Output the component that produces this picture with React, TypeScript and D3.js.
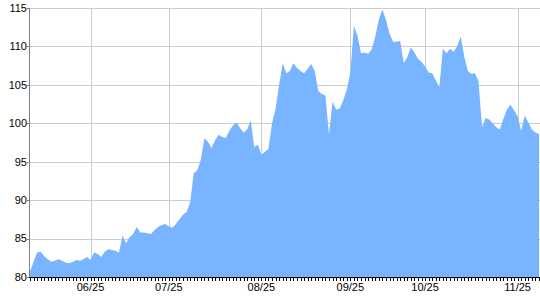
import React from "react";
import * as d3 from "d3";

const values: number[] = [
  80.7, 82.0, 83.2, 83.3, 82.7, 82.3, 82.0, 82.1, 82.3, 82.1,
  81.9, 81.8, 81.95, 82.2, 82.1, 82.3, 82.6, 82.2, 83.2, 83.0,
  82.6, 83.3, 83.6, 83.5, 83.4, 83.2, 85.4, 84.4, 85.2, 85.6,
  86.5, 85.8, 85.8, 85.7, 85.6, 86.1, 86.5, 86.75, 86.9, 86.6,
  86.4, 86.9, 87.5, 88.1, 88.5, 89.7, 93.5, 93.9, 95.3, 98.05,
  97.6, 96.8, 97.8, 98.5, 98.2, 98.1, 99.0, 99.7, 100.1, 99.4,
  98.8, 99.2, 100.4, 96.9, 97.2, 95.9, 96.3, 96.7, 100.0, 101.9,
  105.0, 107.8, 106.5, 106.8, 107.8, 107.2, 106.8, 106.5, 107.1, 107.7,
  106.8, 104.2, 103.8, 103.6, 98.5, 102.8, 101.8, 101.9, 103.0, 104.4,
  106.6, 112.7, 111.4, 109.1, 109.2, 109.05, 109.6, 111.3, 113.5, 114.8,
  113.5, 111.7, 110.6, 110.6, 110.7, 107.8, 108.6, 109.9, 109.2, 108.4,
  108.0, 107.4, 106.6, 106.5, 105.6, 104.7, 109.7, 109.1, 109.7, 109.3,
  110.0, 111.3, 108.7, 106.8, 106.4, 106.5, 105.5, 99.5, 100.7, 100.5,
  100.0, 99.5, 99.2, 100.6, 101.8, 102.4, 101.7, 100.9, 99.0, 101.0,
  100.1, 99.2, 98.8, 98.6,
];

const xTickLabels: string[] = ["06/25", "07/25", "08/25", "09/25", "10/25", "11/25"];
const xTickIndex: number[] = [17, 39, 65, 90, 111, 137];
const yTicks: number[] = [80, 85, 90, 95, 100, 105, 110, 115];

const W = 540;
const H = 300;
const left = 30;
const right = 539;
const top = 8;
const bottom = 277;

export default function App() {
  const x = d3.scaleLinear().domain([0, values.length - 1]).range([left, right]);
  const y = d3.scaleLinear().domain([80, 115]).range([bottom, top]);

  const area = d3
    .area<number>()
    .x((_, i) => x(i))
    .y0(y(80))
    .y1((d) => y(d));

  const font = "'Liberation Sans', Arial, sans-serif";

  return (
    <svg
      width={W}
      height={H}
      style={{ position: "fixed", left: 0, top: 0, background: "#fff" }}
    >
      {/* horizontal grid */}
      {yTicks.slice(1).map((t) => (
        <line
          key={"hg" + t}
          x1={left}
          x2={W}
          y1={Math.round(y(t)) + 0.5}
          y2={Math.round(y(t)) + 0.5}
          stroke="#cccccc"
          strokeWidth={1}
        />
      ))}
      {/* vertical grid */}
      {xTickIndex.map((idx, k) => (
        <line
          key={"vg" + k}
          x1={Math.round(x(idx)) + 0.5}
          x2={Math.round(x(idx)) + 0.5}
          y1={top}
          y2={bottom}
          stroke="#cccccc"
          strokeWidth={1}
        />
      ))}
      {/* area */}
      <path d={area(values) || ""} fill="#78b4ff" stroke="none" />
      {/* left axis */}
      <line x1={left - 0.5} x2={left - 0.5} y1={top} y2={bottom} stroke="#808080" />
      {yTicks.map((t) => (
        <g key={"yt" + t}>
          <line
            x1={left - 3}
            x2={left}
            y1={Math.round(y(t)) + 0.5}
            y2={Math.round(y(t)) + 0.5}
            stroke="#808080"
          />
          <text
            x={27}
            y={y(t)}
            dy="0.35em"
            textAnchor="end"
            fontFamily={font}
            fontSize={11}
            fill="#000"
          >
            {t}
          </text>
        </g>
      ))}
      {/* bottom axis */}
      <line x1={left - 1} x2={W} y1={bottom + 0.5} y2={bottom + 0.5} stroke="#000" />
      {values.map((_, i) => (
        <line
          key={"xt" + i}
          x1={Math.round(x(i)) + 0.5}
          x2={Math.round(x(i)) + 0.5}
          y1={bottom}
          y2={bottom + 4}
          stroke="#000"
        />
      ))}
      {xTickIndex.map((idx, k) => (
        <text
          key={"xl" + k}
          x={x(idx)}
          y={291}
          textAnchor="middle"
          fontFamily={font}
          fontSize={11}
          fill="#000"
        >
          {xTickLabels[k]}
        </text>
      ))}
    </svg>
  );
}
